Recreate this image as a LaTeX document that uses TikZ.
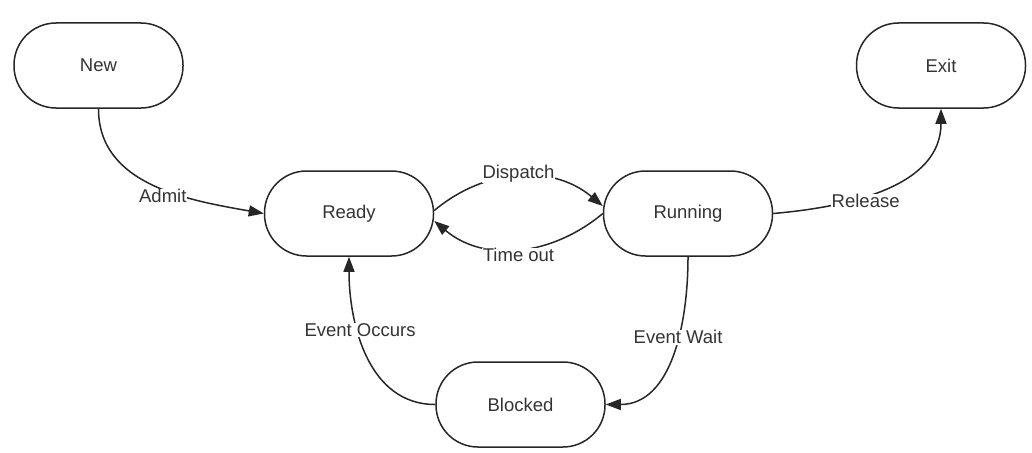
\documentclass[tikz,border=0pt]{standalone}
\usepackage{fontspec}
\setmainfont{Liberation Sans}
\usetikzlibrary{arrows.meta}

\begin{document}
\begin{tikzpicture}
  [x=1pt,y=-1pt,->,>={Triangle[length=15pt,width=11pt]},line width=1.5pt,
   node_style/.style={draw=black!85,rounded corners=42pt,minimum width=169pt,minimum height=85pt,text=black!80,font=\fontsize{18.5}{22}\selectfont},
   edge_style/.style={draw=black!85},
   label_style/.style={fill=white,inner sep=0.5pt,text=black!80,font=\fontsize{18.5}{22}\selectfont}]
  \useasboundingbox (0,0) rectangle (1032,452);
  \node[node_style] (new) at (98.5,65.5) {New};
  \node[node_style] (exit) at (941,65.5) {Exit};
  \node[node_style] (ready) at (349,213.5) {Ready};
  \node[node_style] (run) at (688,213.5) {Running};
  \node[node_style] (block) at (520.5,404.5) {Blocked};
  \draw[edge_style] (new.south) to[out=-90,in=170] node[label_style,pos=0.55,yshift=-7pt]{Admit} (ready.west);
  \draw[edge_style] (ready.2) to[out=40,in=140] node[label_style,pos=0.5,yshift=3pt]{Dispatch} (run.175);
  \draw[edge_style] (run.west) to[out=-140,in=-40] node[label_style,pos=0.5,yshift=-6pt]{Time out} (ready.-5);
  \draw[edge_style] (run.east) to[out=5,in=-90] node[label_style,pos=0.4,yshift=-5pt]{Release} (exit.south);
  \draw[edge_style] (run.south) to[out=-90,in=0] node[label_style,pos=0.4]{Event Wait} (block.east);
  \draw[edge_style] (block.west) to[out=180,in=-90] node[label_style,pos=0.6,yshift=8pt]{Event Occurs} (ready.south);
\end{tikzpicture}
\end{document}
